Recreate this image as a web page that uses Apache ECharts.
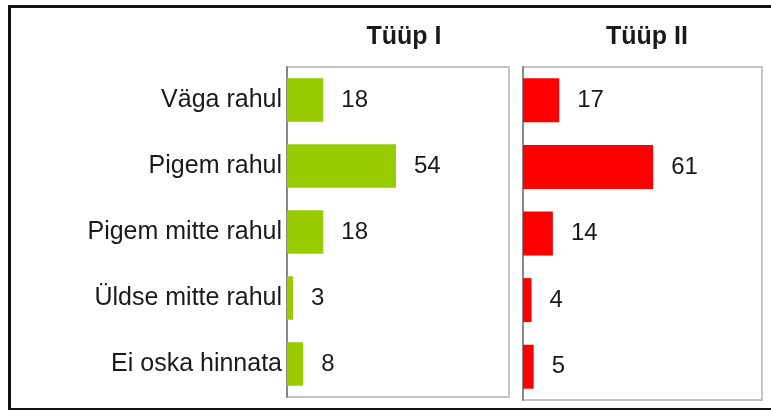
<!DOCTYPE html>
<html>
<head>
<meta charset="utf-8">
<script src="https://cdn.jsdelivr.net/npm/echarts@6/dist/echarts.min.js"></script>
<style>
    html, body { margin: 0; padding: 0; background: #fff; }
    #chart { width: 771px; height: 410px; }
</style>
</head>
<body>
<div id="chart"></div>
<script>
    const categories = ['Väga rahul', 'Pigem rahul', 'Pigem mitte rahul', 'Üldse mitte rahul', 'Ei oska hinnata'];
    const tuup1 = [18, 54, 18, 3, 8];
    const tuup2 = [17, 61, 14, 4, 5];
    const panelTitles = ['Tüüp I', 'Tüüp II'];

    const font = 'Liberation Sans, Arial, sans-serif';
    const textColor = '#1a1a1a';

    let chartDom = document.getElementById('chart');
    let myChart = echarts.init(chartDom);

    const yAxisFor = (gridIndex, showLabels) => ({
        type: 'category',
        gridIndex: gridIndex,
        data: categories,
        inverse: true,
        axisTick: {show: false},
        axisLine: {show: true, lineStyle: {color: '#888', width: 2}},
        axisLabel: {
            show: showLabels,
            color: textColor,
            fontFamily: font,
            fontSize: 25,
            margin: 5
        }
    });

    const xAxisFor = (gridIndex, max) => ({
        type: 'value',
        gridIndex: gridIndex,
        min: 0,
        max: max,
        show: false
    });

    const seriesFor = (name, data, color, index) => ({
        name: name,
        type: 'bar',
        xAxisIndex: index,
        yAxisIndex: index,
        data: data,
        barWidth: '66%',
        itemStyle: {color: color},
        label: {
            show: true,
            position: 'right',
            distance: 18,
            color: textColor,
            fontFamily: font,
            fontSize: 24
        }
    });

    let option = {
        animation: false,
        backgroundColor: '#fff',
        title: [
            {
                text: panelTitles[0],
                left: 399,
                top: 20,
                textAlign: 'center',
                textStyle: {color: textColor, fontFamily: font, fontSize: 25, fontWeight: 'bold'}
            },
            {
                text: panelTitles[1],
                left: 642,
                top: 20,
                textAlign: 'center',
                textStyle: {color: textColor, fontFamily: font, fontSize: 25, fontWeight: 'bold'}
            }
        ],
        graphic: [
            {
                type: 'rect',
                shape: {x: 9.5, y: 6.5, width: 800, height: 403},
                style: {fill: 'none', stroke: '#111', lineWidth: 3},
                silent: true
            }
        ],
        grid: [
            {left: 287, top: 67, width: 222, height: 330, show: true, borderColor: '#c4c4c4', borderWidth: 2},
            {left: 523, top: 67, width: 239, height: 333, show: true, borderColor: '#c4c4c4', borderWidth: 2}
        ],
        xAxis: [xAxisFor(0, 110), xAxisFor(1, 112)],
        yAxis: [yAxisFor(0, true), yAxisFor(1, false)],
        series: [
            seriesFor(panelTitles[0], tuup1, '#99cc00', 0),
            seriesFor(panelTitles[1], tuup2, '#ff0000', 1)
        ]
    };
    myChart.setOption(option);
</script>
</body>
</html>
